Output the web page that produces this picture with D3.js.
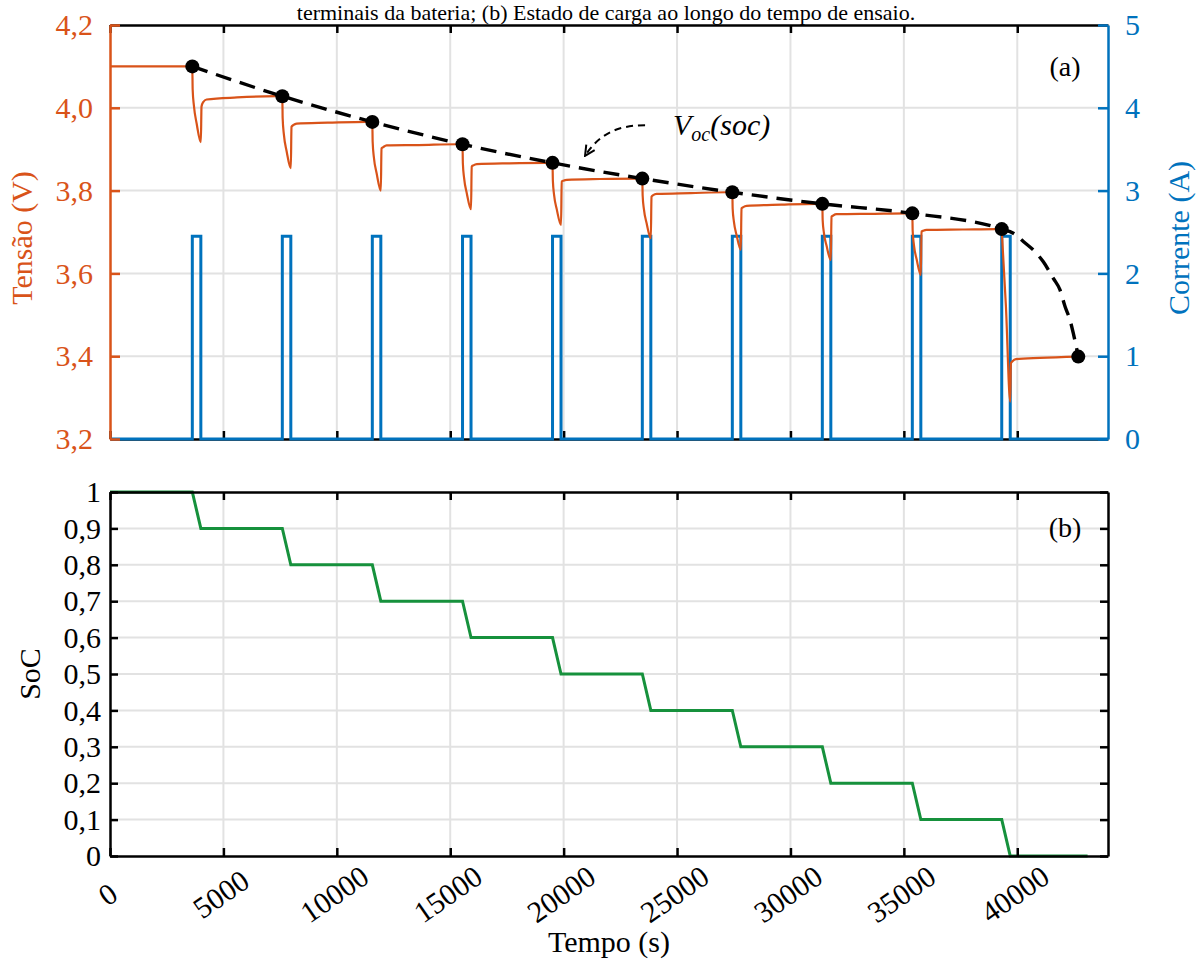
<!DOCTYPE html>
<html>
<head>
<meta charset="utf-8">
<script src="https://cdn.jsdelivr.net/npm/d3@7"></script>
<style>
  body { margin: 0; background: #fff; }
  svg text { font-family: "Liberation Serif", "Times New Roman", serif; }
</style>
</head>
<body>
<div id="chart"></div>
<script>
// ---- data ----
const timeTicks = [0, 5000, 10000, 15000, 20000, 25000, 30000, 35000, 40000];
const voltTicks = [3.2, 3.4, 3.6, 3.8, 4.0, 4.2];
const currentTicks = [0, 1, 2, 3, 4, 5];
const socTicks = [0, 0.1, 0.2, 0.3, 0.4, 0.5, 0.6, 0.7, 0.8, 0.9, 1];

const pulseStart = [3629, 7597, 11565, 15542, 19510, 23469, 27437, 31405, 35373, 39315];
const pulseEnd   = [4005, 7972, 11940, 15917, 19885, 23844, 27812, 31780, 35748, 39690];
const pulseAmp = 2.45;
const socLevels = [1, 0.9, 0.8, 0.7, 0.6, 0.5, 0.4, 0.3, 0.2, 0.1, 0];
const socEnd = 43100;

const voltTimes = [
  0, 3629, 3644, 3700, 3820, 4005, 4035, 4110, 4260, 5600, 7350,
  7597, 7612, 7667, 7787, 7972, 8002, 8077, 8227, 9600, 11320,
  11565, 11580, 11635, 11755, 11940, 11970, 12045, 12195, 13600, 15300,
  15542, 15557, 15612, 15732, 15917, 15947, 16022, 16172, 17600, 19270,
  19510, 19525, 19580, 19700, 19885, 19915, 19990, 20140, 21600, 23230,
  23469, 23484, 23539, 23659, 23844, 23874, 23949, 24099, 25600, 27200,
  27437, 27452, 27507, 27627, 27812, 27842, 27917, 28067, 29600, 31170,
  31405, 31420, 31475, 31595, 31780, 31810, 31885, 32035, 33600, 35130,
  35373, 35388, 35443, 35563, 35748, 35778, 35853, 36003, 37600, 39080,
  39315, 39330, 39500, 39690, 39720, 39790, 39940, 41000, 42690
];
const voltValues = [
  4.100, 4.100, 4.045, 4.005, 3.962, 3.917, 4.003, 4.014, 4.020, 4.025, 4.028,
  4.028, 3.975, 3.935, 3.895, 3.854, 3.954, 3.958, 3.962, 3.964, 3.966,
  3.966, 3.918, 3.880, 3.842, 3.800, 3.902, 3.905, 3.909, 3.910, 3.912,
  3.912, 3.866, 3.830, 3.793, 3.755, 3.858, 3.861, 3.864, 3.866, 3.867,
  3.867, 3.824, 3.789, 3.754, 3.717, 3.822, 3.824, 3.826, 3.828, 3.829,
  3.829, 3.788, 3.755, 3.721, 3.685, 3.785, 3.789, 3.792, 3.794, 3.796,
  3.796, 3.756, 3.725, 3.692, 3.657, 3.757, 3.760, 3.763, 3.766, 3.768,
  3.768, 3.729, 3.698, 3.666, 3.632, 3.737, 3.740, 3.743, 3.744, 3.745,
  3.745, 3.703, 3.669, 3.634, 3.596, 3.701, 3.703, 3.705, 3.706, 3.707,
  3.707, 3.690, 3.520, 3.290, 3.383, 3.388, 3.393, 3.396, 3.399
];

const vocTimes  = [3629, 7597, 11565, 15542, 19510, 23469, 27437, 31405, 35373, 39315, 42690];
const vocValues = [4.100, 4.028, 3.966, 3.912, 3.867, 3.829, 3.796, 3.768, 3.745, 3.707, 3.399];
const vocTailTimes  = [39827, 40267, 40858, 41149, 41590, 41885, 42106, 42326, 42472];
const vocTailValues = [3.697, 3.677, 3.648, 3.628, 3.588, 3.560, 3.520, 3.487, 3.455];

// ---- layout ----
const W = 1196, H = 962;
const left = 110, right = 1108;
const topA = 25, botA = 439;
const topB = 492, botB = 856;
const orange = "#D95319", blue = "#0072BD", green = "#16913C", grid = "#e2e2e2";
const fs = 30;

const svg = d3.select("#chart").append("svg")
  .attr("width", W).attr("height", H);

const x = d3.scaleLinear().domain([0, 44000]).range([left, right]);
const yV = d3.scaleLinear().domain([3.2, 4.2]).range([botA, topA]);
const yI = d3.scaleLinear().domain([0, 5]).range([botA, topA]);
const yS = d3.scaleLinear().domain([0, 1]).range([botB, topB]);

const comma = f => v => d3.format(f)(v).replace(".", ",");

// caption line from the page above the figure
svg.append("text")
  .attr("x", 606).attr("y", 20)
  .attr("text-anchor", "middle")
  .attr("font-size", 22)
  .text("terminais da bateria; (b) Estado de carga ao longo do tempo de ensaio.");

// ---- grids ----
function grids(yScale, yTicks, y0, y1) {
  const g = svg.append("g").attr("stroke", grid).attr("stroke-width", 2);
  g.selectAll(".vx").data(timeTicks.slice(1)).join("line")
    .attr("x1", d => x(d)).attr("x2", d => x(d))
    .attr("y1", y0).attr("y2", y1);
  g.selectAll(".hy").data(yTicks.slice(1, -1)).join("line")
    .attr("x1", left).attr("x2", right)
    .attr("y1", d => yScale(d)).attr("y2", d => yScale(d));
}
grids(yV, voltTicks, topA, botA);
grids(yS, socTicks, topB, botB);

function style(g, color) {
  g.selectAll("path.domain").attr("stroke", color).attr("stroke-width", 2.5);
  g.selectAll(".tick line").attr("stroke", color).attr("stroke-width", 2.5);
  g.selectAll("text").attr("fill", color).attr("font-size", fs);
}

// ---- top panel (a) ----
style(svg.append("g").attr("transform", `translate(0,${topA})`)
  .call(d3.axisTop(x).tickValues(timeTicks).tickSizeInner(-8).tickSizeOuter(0).tickFormat("")), "#000");
style(svg.append("g").attr("transform", `translate(0,${botA})`)
  .call(d3.axisBottom(x).tickValues(timeTicks).tickSizeInner(-8).tickSizeOuter(0).tickFormat("")), "#000");

const current = [[0, 0]];
pulseStart.forEach((s, i) => {
  current.push([s, 0], [s, pulseAmp], [pulseEnd[i], pulseAmp], [pulseEnd[i], 0]);
});
current.push([44000, 0]);

svg.append("path")
  .datum(current)
  .attr("fill", "none").attr("stroke", blue).attr("stroke-width", 3)
  .attr("d", d3.line().x(d => x(d[0])).y(d => yI(d[1])));

const volt = voltTimes.map((t, i) => [t, voltValues[i]]);
svg.append("path")
  .datum(volt)
  .attr("fill", "none").attr("stroke", orange).attr("stroke-width", 2.2)
  .attr("stroke-linejoin", "round")
  .attr("d", d3.line().x(d => x(d[0])).y(d => yV(d[1])).curve(d3.curveMonotoneX));

const vocLine = vocTimes.slice(0, 10).map((t, i) => [t, vocValues[i]])
  .concat(vocTailTimes.map((t, i) => [t, vocTailValues[i]]))
  .concat([[vocTimes[10], vocValues[10]]]);
svg.append("path")
  .datum(vocLine)
  .attr("fill", "none").attr("stroke", "#000").attr("stroke-width", 3.4)
  .attr("stroke-dasharray", "16,9")
  .attr("d", d3.line().x(d => x(d[0])).y(d => yV(d[1])).curve(d3.curveMonotoneX));

svg.append("g").selectAll("circle")
  .data(vocTimes.map((t, i) => [t, vocValues[i]]))
  .join("circle")
  .attr("cx", d => x(d[0])).attr("cy", d => yV(d[1]))
  .attr("r", 7).attr("fill", "#000");

// left / right axes
style(svg.append("g").attr("transform", `translate(${left},0)`)
  .call(d3.axisLeft(yV).tickValues(voltTicks).tickSizeInner(-10).tickSizeOuter(0)
    .tickPadding(17).tickFormat(comma(".1f"))), orange);
style(svg.append("g").attr("transform", `translate(${right},0)`)
  .call(d3.axisRight(yI).tickValues(currentTicks).tickSizeInner(-10).tickSizeOuter(0)
    .tickPadding(17).tickFormat(d3.format("d"))), blue);

svg.append("text")
  .attr("transform", `translate(32,238) rotate(-90)`)
  .attr("text-anchor", "middle").attr("fill", orange).attr("font-size", fs)
  .text("Tensão (V)");
svg.append("text")
  .attr("transform", `translate(1189,238) rotate(-90)`)
  .attr("text-anchor", "middle").attr("fill", blue).attr("font-size", fs)
  .text("Corrente (A)");

svg.append("text").attr("x", 1065).attr("y", 76)
  .attr("text-anchor", "middle").attr("font-size", 28).text("(a)");

// Voc annotation
const defs = svg.append("defs");
defs.append("marker")
  .attr("id", "arrow").attr("viewBox", "0 0 12 12")
  .attr("refX", 11).attr("refY", 6)
  .attr("markerWidth", 12).attr("markerHeight", 12)
  .attr("markerUnits", "userSpaceOnUse")
  .attr("orient", "auto")
  .append("path").attr("d", "M1,1 L11,6 L1,11")
  .attr("fill", "none").attr("stroke", "#000").attr("stroke-width", 2);

const ax0 = x(23590), ay0 = yV(3.958), ax1 = x(20943), ay1 = yV(3.884);
svg.append("path")
  .attr("d", `M${ax0},${ay0} C${ax0 - 30},${ay0} ${ax1 + 13},${ay1 - 20} ${ax1},${ay1}`)
  .attr("fill", "none").attr("stroke", "#000").attr("stroke-width", 2)
  .attr("stroke-dasharray", "7,5")
  .attr("marker-end", "url(#arrow)");

const vt = svg.append("text").attr("x", 673).attr("y", 135)
  .attr("font-size", fs).attr("font-style", "italic");
vt.append("tspan").text("V");
vt.append("tspan").attr("font-size", 20).attr("dy", 6).text("oc");
vt.append("tspan").attr("dy", -6).text("(soc)");

// ---- bottom panel (b) ----
const soc = [[0, socLevels[0]]];
pulseStart.forEach((s, i) => {
  soc.push([s, socLevels[i]], [pulseEnd[i], socLevels[i + 1]]);
});
soc.push([socEnd, socLevels[socLevels.length - 1]]);

svg.append("path")
  .datum(soc)
  .attr("fill", "none").attr("stroke", green).attr("stroke-width", 3)
  .attr("d", d3.line().x(d => x(d[0])).y(d => yS(d[1])));

style(svg.append("g").attr("transform", `translate(0,${topB})`)
  .call(d3.axisTop(x).tickValues(timeTicks).tickSizeInner(-8).tickSizeOuter(0).tickFormat("")), "#000");
style(svg.append("g").attr("transform", `translate(${right},0)`)
  .call(d3.axisRight(yS).tickValues(socTicks).tickSizeInner(-8).tickSizeOuter(0).tickFormat("")), "#000");
style(svg.append("g").attr("transform", `translate(${left},0)`)
  .call(d3.axisLeft(yS).tickValues(socTicks).tickSizeInner(-8).tickSizeOuter(0)
    .tickPadding(9).tickFormat(d => d3.format("~g")(d).replace(".", ","))), "#000");

const xb = svg.append("g").attr("transform", `translate(0,${botB})`)
  .call(d3.axisBottom(x).tickValues(timeTicks).tickSizeInner(-8).tickSizeOuter(0).tickFormat(d3.format("d")));
style(xb, "#000");
xb.selectAll(".tick text")
  .attr("y", 0).attr("dy", "0.35em")
  .attr("text-anchor", "middle")
  .attr("transform", "translate(-3,38) rotate(-35)");

svg.append("text")
  .attr("x", x(22000)).attr("y", 952)
  .attr("text-anchor", "middle").attr("font-size", fs)
  .text("Tempo (s)");
svg.append("text")
  .attr("transform", `translate(40,674) rotate(-90)`)
  .attr("text-anchor", "middle").attr("font-size", fs)
  .text("SoC");

svg.append("text").attr("x", 1065).attr("y", 537)
  .attr("text-anchor", "middle").attr("font-size", 28).text("(b)");
</script>
</body>
</html>
